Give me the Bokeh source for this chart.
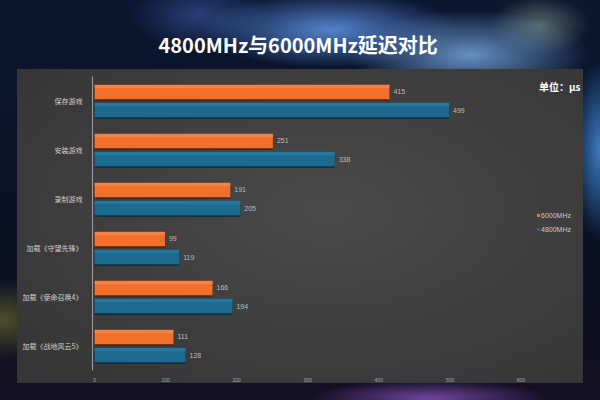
from bokeh.plotting import figure
from bokeh.models import (FactorRange, Range1d, Legend, LegendItem, Label,
                          ColumnDataSource, FixedTicker)
from bokeh.transform import dodge
from bokeh.core.properties import value
from bokeh.embed import file_html
from bokeh.resources import INLINE

# ---- data ----
categories = ["保存游戏", "安装游戏", "录制游戏",
              "加载《守望先锋》", "加载《使命召唤4》", "加载《战地风云5》"]
mhz6000 = [415, 251, 191, 99, 166, 111]
mhz4800 = [499, 338, 205, 119, 194, 128]
x_ticks = [0, 100, 200, 300, 400, 500, 600]
series_names = ["6000MHz", "4800MHz"]

FONT = "Noto Sans CJK SC"
ORANGE, ORANGE_HI, ORANGE_SH = "#f2702a", "#f7925a", "#4a2412"
BLUE, BLUE_HI, BLUE_SH = "#1c6a90", "#2c82aa", "#0e2c3c"

src = ColumnDataSource(dict(
    cat=categories, a=mhz6000, b=mhz4800,
    a_lbl=[str(v) for v in mhz6000], b_lbl=[str(v) for v in mhz4800],
))

backdrop = ", ".join([
    # chart panel
    "radial-gradient(ellipse 70% 70% at 55% 45%, #4a4a4a, #363636) 17px 69px / 566px 314px no-repeat",
    # blurred scene behind the panel
    "radial-gradient(ellipse 130px 38px at 330px 30px, rgba(95,150,235,0.85), transparent)",
    "radial-gradient(ellipse 120px 45px at 470px 55px, rgba(130,185,245,0.75), transparent)",
    "radial-gradient(ellipse 50px 30px at 540px 25px, rgba(170,200,170,0.45), transparent)",
    "radial-gradient(ellipse 70px 35px at 200px 15px, rgba(60,90,170,0.6), transparent)",
    "radial-gradient(ellipse 30px 90px at 600px 150px, rgba(70,150,235,0.8), transparent)",
    "radial-gradient(ellipse 120px 18px at 430px 398px, rgba(150,90,210,0.7), transparent)",
    "radial-gradient(ellipse 50px 40px at 5px 320px, rgba(130,130,50,0.55), transparent)",
    "linear-gradient(180deg, #0b1630, #0a1224 60%, #140f22)",
])

p = figure(width=600, height=400,
           y_range=FactorRange(*reversed(categories)),
           x_range=Range1d(-3, 684),
           output_backend="svg", toolbar_location=None,
           min_border_left=92, min_border_right=20,
           min_border_top=76, min_border_bottom=30,
           styles={"background": backdrop})
p.border_fill_alpha = 0
p.background_fill_alpha = 0
p.outline_line_color = None
p.xgrid.grid_line_color = None
p.ygrid.grid_line_color = None

# title
p.title.text = "4800MHz与6000MHz延迟对比"
p.title.align = "left"
p.title.offset = 66
p.title.standoff = 36
p.title.text_color = "white"
p.title.text_font = FONT
p.title.text_font_style = "bold"
p.title.text_font_size = "20px"

OFF = 0.184
H = 0.30

def bars(col, off, main, hi, sh):
    # drop shadow under the bar
    p.hbar(y=dodge("cat", off - 0.035, range=p.y_range), left=0, right=col,
           height=H, source=src, fill_color=sh, fill_alpha=0.8, line_color=None)
    r = p.hbar(y=dodge("cat", off, range=p.y_range), left=0, right=col,
               height=H, source=src, fill_color=main, line_color=None)
    # glossy upper edge
    p.hbar(y=dodge("cat", off + H / 2 - 0.04, range=p.y_range), left=0, right=col,
           height=0.07, source=src, fill_color=hi, fill_alpha=0.55, line_color=None)
    return r

r6000 = bars("a", OFF, ORANGE, ORANGE_HI, ORANGE_SH)
r4800 = bars("b", -OFF, BLUE, BLUE_HI, BLUE_SH)

for col, off, lbl in (("a", OFF, "a_lbl"), ("b", -OFF, "b_lbl")):
    p.text(x=col, y=dodge("cat", off, range=p.y_range), text=lbl, source=src,
           x_offset=4, text_baseline="middle", text_align="left",
           text_font=value("Liberation Sans"), text_font_size="7px",
           text_color="#bdbdbd")

# axes
p.xaxis.ticker = FixedTicker(ticks=x_ticks)
p.xaxis.axis_line_color = None
p.xaxis.major_tick_line_color = None
p.xaxis.minor_tick_line_color = None
p.xaxis.major_label_text_font_size = "5px"
p.xaxis.major_label_text_color = "#a8a8a8"
p.xaxis.major_label_standoff = 1

p.yaxis.axis_line_color = "#a0a0a0"
p.yaxis.axis_line_width = 1
p.yaxis.major_tick_line_color = None
p.yaxis.minor_tick_line_color = None
p.yaxis.major_label_text_font = FONT
p.yaxis.major_label_text_font_size = "7px"
p.yaxis.major_label_text_color = "#d0d0d0"
p.yaxis.major_label_standoff = 4

# unit note
p.add_layout(Label(x=684, y=6, text="单位：μs", text_align="right",
                   text_baseline="top", x_offset=0, y_offset=-2,
                   text_font=FONT, text_font_style="bold",
                   text_font_size="10px", text_color="white"))

legend = Legend(items=[LegendItem(label=series_names[0], renderers=[r6000]),
                       LegendItem(label=series_names[1], renderers=[r4800])],
                location=(444, 137), orientation="vertical",
                background_fill_alpha=0, border_line_color=None,
                label_text_font_size="7px", label_text_color="#c8c8c8",
                label_text_font="Liberation Sans",
                glyph_width=4, glyph_height=4, label_height=8,
                label_standoff=1, spacing=6, padding=0, margin=0)
p.add_layout(legend, "center")

open("out.html", "w").write(file_html(p, INLINE))
